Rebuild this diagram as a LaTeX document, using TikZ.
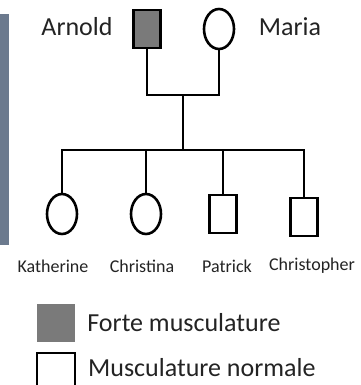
\documentclass[tikz,border=0pt]{standalone}
\usepackage{fontspec}
\setmainfont{Carlito}
\usetikzlibrary{shapes.geometric, positioning}
\definecolor{barBlue}{RGB}{108,122,142}
\definecolor{affGrey}{RGB}{122,122,122}
\definecolor{inkGrey}{RGB}{35,35,35}
\tikzset{
    male/.style={rectangle, draw, line width=2.6pt, inner sep=0pt, minimum width=27pt, minimum height=38pt},
    female/.style={ellipse, draw, line width=2.6pt, inner sep=0pt, minimum width=30pt, minimum height=40pt},
    affected/.style={fill=affGrey},
    bigName/.style={font=\fontsize{26}{30}\selectfont, text=inkGrey, inner sep=0pt},
    smallName/.style={font=\fontsize{18}{21}\selectfont, text=inkGrey, inner sep=0pt},
    kinLine/.style={line width=2.8pt},
}
\begin{document}
\begin{tikzpicture}[x=1pt, y=-1pt]
        \useasboundingbox (0,0) rectangle (360,385);
        \clip (0,0) rectangle (360,385);

        % bande a gauche
        \fill[barBlue] (0,14) rectangle (9,245);

        % parents
        \node[male, affected] (arnold) at (147,29) {};
        \node[female] (maria) at (219,29) {};
        \node[bigName] (arnoldName) at (77,27) {Arnold};
        \node[bigName] (mariaName) at (290,27) {Maria};

        % enfants
        \node[female] (kath) at (62,214) {};
        \node[female] (chris) at (146,214) {};
        \node[male] (pat) at (223,214) {};
        \node[male] (christo) at (304,217) {};
        \node[smallName] (kathName) at (53,266) {Katherine};
        \node[smallName] (chrisName) at (142,266) {Christina};
        \node[smallName] (patName) at (227,266) {Patrick};
        \node[smallName] (christoName) at (312,266) {Christopher};

        \coordinate (couple) at (183,95);
        \coordinate (sibs) at (183,150);

        \draw[kinLine] (arnold.south) |- (couple) -| (maria.south);
        \draw[kinLine] (couple) -- (sibs);
        \draw[kinLine] (sibs) -| (kath.north);
        \draw[kinLine] (sibs) -| (chris.north);
        \draw[kinLine] (sibs) -| (pat.north);
        \draw[kinLine] (sibs) -| (christo.north);

        % legende
        \node[rectangle, fill=affGrey, inner sep=0pt, minimum width=38pt, minimum height=38pt] (keyAff) at (56,323) {};
        \node[rectangle, draw, line width=2pt, inner sep=0pt, minimum width=38pt, minimum height=40pt] (keyNorm) at (56,373) {};
        \node[bigName, anchor=west, right=12pt of keyAff] (keyAffText) {Forte musculature};
        \node[bigName, anchor=west] (keyNormText) at (88,368) {Musculature normale};

    \end{tikzpicture}
\end{document}
